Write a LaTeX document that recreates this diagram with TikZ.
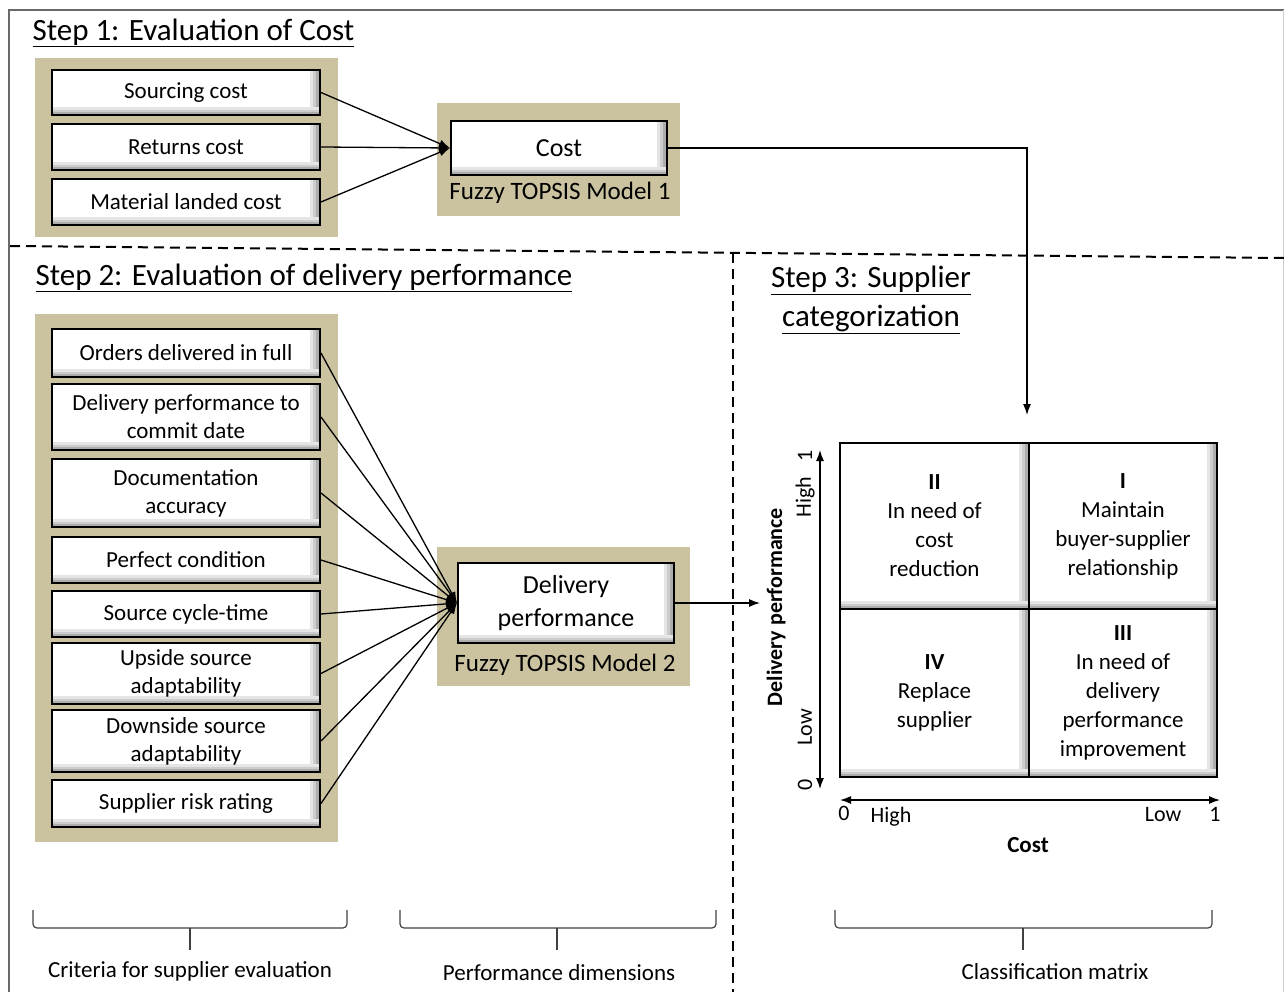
\documentclass[tikz,border=0pt]{standalone}
\usepackage{fontspec}
\setmainfont{Carlito}
\usetikzlibrary{arrows.meta}
\definecolor{panelbg}{RGB}{203,195,160}
\definecolor{framegray}{RGB}{105,105,105}

\begin{document}
\begin{tikzpicture}[x=1pt,y=-1pt,
    panel/.style={fill=panelbg,inner sep=0pt},
    bevel/.style={draw=black,line width=2pt,fill=white,inner sep=2pt,align=center,
      path picture={
        \fill[black!10] ([xshift=-10pt]path picture bounding box.north east) rectangle (path picture bounding box.south east);
        \fill[black!20] ([xshift=-7pt]path picture bounding box.north east) rectangle (path picture bounding box.south east);
        \fill[black!32] ([xshift=-4pt]path picture bounding box.north east) rectangle (path picture bounding box.south east);
        \fill[black!10] ([yshift=8pt]path picture bounding box.south west) rectangle (path picture bounding box.south east);
        \fill[black!20] ([yshift=5pt]path picture bounding box.south west) rectangle (path picture bounding box.south east);
        \fill[black!32] ([yshift=3pt]path picture bounding box.south west) rectangle (path picture bounding box.south east);
      }},
    critbox/.style={bevel,minimum width=268pt,font=\fontsize{23}{28}\selectfont},
    cell/.style={bevel,font=\fontsize{23}{29}\selectfont},
    flow/.style={line width=1.3pt,-{Latex[length=11pt,width=8pt]}},
    sep/.style={line width=2pt,dash pattern=on 10pt off 6pt},
    brace/.style={line width=1.2pt,black!75,rounded corners=4pt},
    title/.style={font=\fontsize{31}{39}\selectfont,align=center},
    ]
  \useasboundingbox (0,0) rectangle (1284,992);

  % frame and separators
  \draw[framegray,line width=2.5pt] (9,992) -- (9,10) -- (1284,10);
  \draw[black!20,line width=1pt] (1283,10) -- (1283,992);
  \draw[sep] (10,246) -- (1284,258);
  \draw[sep] (733,253) -- (733,992);

  % step 1
  \node[title,anchor=west] (t1) at (29,33) {\underline{Step 1: Evaluation of Cost}};
  \node[panel,minimum width=303pt,minimum height=179pt] (p1) at (186.5,147.5) {};
  \node[critbox,minimum height=45pt] (s1) at (186,92.5) {Sourcing cost};
  \node[critbox,minimum height=46pt] (s2) at (186,147) {Returns cost};
  \node[critbox,minimum height=46pt] (s3) at (186,202) {Material landed cost};
  \node[panel,minimum width=243pt,minimum height=113pt] (p2) at (558.5,159.5) {};
  \node[bevel,minimum width=216pt,minimum height=54pt,font=\fontsize{26}{30}\selectfont] (cost) at (559,148) {Cost};
  \node[font=\fontsize{25}{30}\selectfont] (m1) at (560,193) {Fuzzy TOPSIS Model 1};
  \draw[flow] (s1.east) -- (cost.west);
  \draw[flow] (s2.east) -- (cost.west);
  \draw[flow] (s3.east) -- (cost.west);
  \coordinate (costin) at (1027,415);
  \draw[flow] (cost.east) -| (costin);

  % step 2
  \node[title,anchor=west] (t2) at (32,278) {\underline{Step 2: Evaluation of delivery performance}};
  \node[panel,minimum width=303pt,minimum height=528pt] (p3) at (186.5,578) {};
  \node[critbox,minimum height=48pt] (c1) at (186,353) {Orders delivered in full};
  \node[critbox,minimum height=66pt] (c2) at (186,417) {Delivery performance to\\commit date};
  \node[critbox,minimum height=68pt] (c3) at (186,493) {Documentation\\accuracy};
  \node[critbox,minimum height=46pt] (c4) at (186,560) {Perfect condition};
  \node[critbox,minimum height=46pt] (c5) at (186,614) {Source cycle-time};
  \node[critbox,minimum height=61pt] (c6) at (186,673.5) {Upside source\\adaptability};
  \node[critbox,minimum height=62pt] (c7) at (186,741) {Downside source\\adaptability};
  \node[critbox,minimum height=47pt] (c8) at (186,803.5) {Supplier risk rating};
  \node[panel,minimum width=253pt,minimum height=139pt] (p4) at (563.5,616.5) {};
  \node[bevel,minimum width=216pt,minimum height=80pt,font=\fontsize{26}{33}\selectfont] (dp) at (566,603) {Delivery\\performance};
  \node[font=\fontsize{25}{30}\selectfont] (m2) at (565,665) {Fuzzy TOPSIS Model 2};
  \draw[flow] (c1.east) -- (dp.west);
  \draw[flow] (c2.east) -- (dp.west);
  \draw[flow] (c3.east) -- (dp.west);
  \draw[flow] (c4.east) -- (dp.west);
  \draw[flow] (c5.east) -- (dp.west);
  \draw[flow] (c6.east) -- (dp.west);
  \draw[flow] (c7.east) -- (dp.west);
  \draw[flow] (c8.east) -- (dp.west);
  \coordinate (dpin) at (760,603);
  \draw[flow] (dp.east) -- (dpin);

  % step 3
  \node[title] (t3) at (871,300) {\underline{Step 3: Supplier}\\\underline{categorization}};
  \node[cell,minimum width=189pt,minimum height=166pt] (q2) at (934.5,526) {\textbf{II}\\In need of\\cost\\reduction};
  \node[cell,minimum width=188pt,minimum height=166pt] (q1) at (1123,526) {\textbf{I}\\Maintain\\buyer-supplier\\relationship};
  \node[cell,minimum width=189pt,minimum height=168pt] (q4) at (934.5,693) {\textbf{IV}\\Replace\\supplier};
  \node[cell,minimum width=188pt,minimum height=168pt] (q3) at (1123,693) {\textbf{III}\\In need of\\delivery\\performance\\improvement};

  \coordinate (ytop) at (820,450);
  \coordinate (ybot) at (820,789);
  \coordinate (xleft) at (840,800);
  \coordinate (xright) at (1220,800);
  \draw[line width=1.3pt,{Latex[length=11pt,width=8pt]}-{Latex[length=11pt,width=8pt]}] (ytop) -- (ybot);
  \draw[line width=1.3pt,{Latex[length=11pt,width=8pt]}-{Latex[length=11pt,width=8pt]}] (xleft) -- (xright);
  \node[rotate=90,font=\fontsize{22}{26}\selectfont] (y1) at (805,456) {1};
  \node[rotate=90,font=\fontsize{22}{26}\selectfont] (yhigh) at (805,497) {High};
  \node[rotate=90,font=\fontsize{22}{26}\selectfont] (ylow) at (805,727) {Low};
  \node[rotate=90,font=\fontsize{22}{26}\selectfont] (y0) at (805,785) {0};
  \node[rotate=90,font=\bfseries\fontsize{22}{26}\selectfont] (ylab) at (776,607) {Delivery performance};
  \node[font=\fontsize{22}{26}\selectfont] (x0) at (844,813) {0};
  \node[font=\fontsize{22}{26}\selectfont] (xhigh) at (891,817) {High};
  \node[font=\fontsize{22}{26}\selectfont] (xlow) at (1163,815) {Low};
  \node[font=\fontsize{22}{26}\selectfont] (x1) at (1215,814) {1};
  \node[font=\bfseries\fontsize{23}{26}\selectfont] (xlab) at (1028,845) {Cost};

  % braces
  \draw[brace] (33,910) -- (33,928) -- (347,928) -- (347,910);
  \draw[brace] (190,928) -- (190,950);
  \draw[brace] (400,910) -- (400,928) -- (716,928) -- (716,910);
  \draw[brace] (557,928) -- (557,950);
  \draw[brace] (835,910) -- (835,928) -- (1212,928) -- (1212,910);
  \draw[brace] (1023,928) -- (1023,950);
  \node[font=\fontsize{23}{26}\selectfont] (b1) at (190,971) {Criteria for supplier evaluation};
  \node[font=\fontsize{23}{26}\selectfont] (b2) at (559,973) {Performance dimensions};
  \node[font=\fontsize{23}{26}\selectfont] (b3) at (1055,972) {Classification matrix};
\end{tikzpicture}
\end{document}
